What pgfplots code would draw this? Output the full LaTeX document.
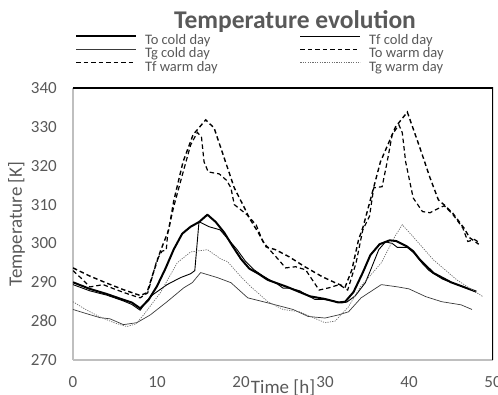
\documentclass[border=0pt]{standalone}
\usepackage{fontspec}
\setmainfont{Carlito}
\usepackage{pgfplots}
\pgfplotsset{compat=1.18}
\definecolor{txt}{HTML}{595959}
\definecolor{axgray}{HTML}{BFBFBF}
\definecolor{tgcold}{HTML}{3A3A3A}
\definecolor{tgwarm}{HTML}{6E6E6E}

\begin{document}
\begin{tikzpicture}[x=1pt,y=1pt]
\begin{axis}[
  scale only axis, width=420pt, height=272pt,
  xmin=0, xmax=50, ymin=270, ymax=340,
  xtick={0,10,...,50}, ytick={270,280,...,340},
  axis x line*=bottom, axis y line*=left,
  axis line style={draw=axgray, line width=1.4pt, -},
  major tick length=0pt, tick style={draw=none},
  /pgf/number format/assume math mode=true,
  ticklabel style={font=\fontsize{17}{20}\selectfont, text=txt},
  xticklabel style={anchor=base, yshift=-28pt},
  yticklabel style={anchor=east, inner sep=0pt, xshift=-16pt},
  xlabel={Time [h]},
  xlabel style={at={(rel axis cs:0.5,0)}, anchor=base, yshift=-34pt,
    font=\fontsize{19}{22}\selectfont, text=txt},
  legend columns=2,
  legend cell align=left,
  legend style={at={(rel axis cs:0.0048,1.195)}, anchor=north west,
    draw=none, fill=none, inner sep=0pt, outer sep=0pt,
    font=\fontsize{14.5}{16}\selectfont, text=txt, row sep=0pt,
    nodes={inner sep=0pt, text height=9.5pt, text depth=3.8pt},
    /tikz/every odd column/.append style={column sep=8pt},
    /tikz/every even column/.append style={column sep=82pt}},
  legend image code/.code={\draw[#1] (0pt,5.5pt) -- (60pt,5.5pt);},
]
\coordinate (O) at (rel axis cs:0,0);

% cold day
\addplot[black, line width=2.0pt, line join=round] coordinates {
(0,290.0) (2,288.3) (4,287.0) (6,285.5) (7,284.8) (8,283.3) (9,285.5)
(10,289.0) (11,293.5) (12,298.5) (13,302.5) (14,304.3) (15,305.5) (16,307.4)
(17,305.5) (18,302.8) (19,299.3) (20,296.0) (21,293.5) (22,292.3) (23.2,290.6)
(25.5,288.8) (28.2,286.4) (30,285.7) (31.6,284.8) (32.4,285.0) (33.4,287.5)
(34.5,292.5) (35.4,297.0) (36.5,299.8) (37.7,300.8) (38.5,300.6) (39.7,299.3)
(40.5,298.0) (41.3,295.8) (42.9,292.4) (45,290.0) (48,287.6)};
\addlegendentry{To cold day}

\addplot[black, line width=0.9pt, line join=round] coordinates {
(0,289.4) (2,287.8) (4,286.7) (6,285.2) (7,284.3) (8,282.8) (8.7,285.0)
(9.5,286.8) (11.2,289.4) (12.8,291.2) (14,292.2) (14.5,293.0) (15,305.6)
(16.2,304.3) (17.5,303.5) (18.5,301.0) (19.5,298.5) (20.5,295.5) (21.5,293.3)
(22.5,291.8) (23.5,290.5) (24.3,289.6) (25,288.5) (25.8,288.5) (27,287.8)
(28,286.5) (28.8,285.6) (29.8,285.6) (31,285.2) (32,284.7) (32.6,284.9)
(33.6,286.5) (34.8,289.9) (35.4,293.0) (36.4,298.4) (37.2,300.4) (38,300.0)
(38.6,299.0) (39.8,299.0) (40.6,297.5) (41.6,294.8) (42.4,293.0) (44,290.8)
(46,289.2) (48,287.5)};
\addlegendentry{Tf cold day}

\addplot[tgcold, line width=0.7pt, line join=round] coordinates {
(0,283.0) (1.5,282.0) (3.2,280.9) (4.4,280.6) (6,279.1) (7.6,279.6)
(9.2,281.6) (11.2,285.0) (13.2,288.6) (14.2,289.9) (15.2,292.5) (17.2,291.2)
(18.8,289.9) (20.8,286.0) (23.2,284.7) (26.2,283.0) (28,281.2) (30,280.8)
(31.6,281.6) (32.8,282.4) (34.3,286.0) (36.7,289.4) (38.7,288.8) (40,288.3)
(42,286.3) (43.9,285.0) (46.2,284.2) (47.5,283.0)};
\addlegendentry{Tg cold day}

% warm day
\addplot[black, line width=1.4pt, dash pattern=on 4.5pt off 3pt] coordinates {
(0,293.7) (2,291.6) (4,289.8) (6,288.1) (8,286.6) (8.8,287.3) (9.5,292.0)
(10.4,298.0) (11.4,303.5) (12,311.0) (13.1,321.0) (14.3,328.0) (15.8,331.8)
(16.8,329.7) (18,322.0) (19.2,314.3) (20.4,309.2) (21,306.5) (22,303.0)
(23,299.1) (24.1,298.4) (25.7,296.6) (27.6,294.0) (29.7,291.4) (31.2,289.9)
(32.4,288.8) (33.2,293.2) (34,301.0) (34.5,304.0) (35.5,312.0) (36.6,321.0)
(38.4,330.0) (39.8,333.8) (41.3,324.6) (42.5,316.9) (43.5,311.2) (44.2,309.9)
(45.2,307.8) (46.6,303.8) (47.2,301.5) (48.3,299.8)};
\addlegendentry{To warm day}

\addplot[black, line width=1.2pt, dash pattern=on 4.5pt off 3pt] coordinates {
(0,293.0) (1,291.0) (2,288.8) (3.6,289.4) (5,288.2) (6.8,286.8) (8,286.0)
(8.9,287.3) (10,295.8) (10.6,298.0) (11.1,298.3) (11.3,303.0) (12,309.5)
(13,317.5) (14,325.3) (14.8,328.6) (15.3,327.3) (15.6,321.0) (16.1,318.4)
(17.4,317.9) (18.3,316.2) (18.8,314.3) (19.2,310.0) (20.7,307.4) (21.8,304.8)
(22.6,300.5) (23.4,298.4) (24.6,295.5) (25.3,293.7) (26.5,294.0) (27.7,293.2)
(28.5,290.6) (29.3,288.0) (30.5,288.6) (31.7,289.4) (32.7,288.0) (33.7,295.0)
(34.5,303.5) (35.3,307.0) (35.8,314.3) (36.8,314.6) (37.4,321.0) (38,328.0)
(38.8,330.5) (39.2,328.5) (39.6,321.0) (40.5,311.7) (41.6,308.2) (42.5,307.9)
(43.3,308.8) (44.2,309.7) (45.2,307.5) (46.4,304.0) (47,300.5) (47.8,301.0)
(48.4,300.2)};
\addlegendentry{Tf warm day}

\addplot[tgwarm, line width=0.7pt, dash pattern=on 1.2pt off 1.2pt] coordinates {
(0,285.0) (1.5,283.0) (3.2,281.1) (5,279.5) (6.4,278.6) (7.5,279.3)
(8.4,281.6) (10.4,287.3) (12.4,295.0) (14,297.8) (16,298.4) (17.6,296.0)
(18.4,295.3) (20,291.4) (21.2,288.8) (23.2,285.0) (25,283.0) (27,282.4)
(28.5,281.0) (30,279.6) (31.2,280.0) (32.8,283.7) (34.2,288.8) (36.7,295.0)
(38.3,301.7) (39.2,304.8) (40.5,301.7) (42.9,295.8) (45.7,290.6) (48.8,286.3)};
\addlegendentry{Tg warm day}

% plot-area border on the top and right sides
\draw[black, line width=1.2pt] (rel axis cs:0,1) -- (rel axis cs:1,1) -- (rel axis cs:1,0);
\end{axis}

\node[anchor=base, font=\bfseries\fontsize{25.5}{30}\selectfont, text=txt]
  at ([shift={(222pt,331pt)}]O) {Temperature evolution};
\node[anchor=base, rotate=90, font=\fontsize{19}{22}\selectfont, text=txt]
  at ([shift={(-51pt,136pt)}]O) {Temperature [K]};

% page = 498 x 395 around the plot area
\pgfresetboundingbox
\path[use as bounding box] ([shift={(-73pt,-35pt)}]O) rectangle ([shift={(425pt,360pt)}]O);
\end{tikzpicture}
\end{document}
